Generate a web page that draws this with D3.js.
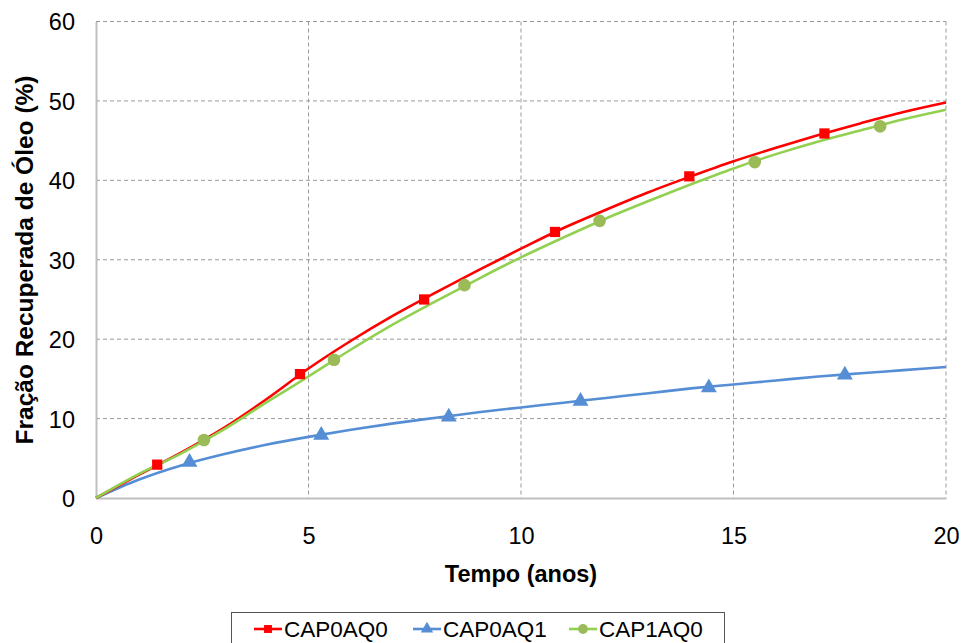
<!DOCTYPE html>
<html><head><meta charset="utf-8">
<script src="https://cdn.jsdelivr.net/npm/d3@7"></script>
<style>
body{margin:0;background:#fff;}
text{font-family:"Liberation Sans",Arial,sans-serif;fill:#000;}
</style></head>
<body><svg id="c" width="965" height="643"></svg>
<script>
const years = [0,1,2,3,4,5,6,7,8,9,10,11,12,13,14,15,16,17,18,19,20];
const cap0aq0 = [0,2.9,5.7,8.8,12.4,16.3,19.8,23.0,25.9,28.7,31.4,34.0,36.3,38.5,40.5,42.4,44.1,45.7,47.2,48.6,49.8];
const cap0aq1 = [0,2.3,4.1,5.5,6.7,7.7,8.6,9.4,10.1,10.8,11.4,12.0,12.6,13.2,13.8,14.3,14.8,15.3,15.7,16.1,16.5];
const cap1aq0 = [0,3.0,5.6,8.6,12.0,15.3,18.7,21.9,24.8,27.6,30.3,32.8,35.2,37.4,39.5,41.5,43.3,44.9,46.3,47.7,48.9];
const markX0 = [1.44,4.8,7.72,10.8,13.96,17.14];
const markY0 = [4.2,15.6,25.0,33.5,40.5,45.9];
const markX1 = [2.2,5.3,8.3,11.4,14.42,17.62];
const markY1 = [4.5,7.9,10.2,12.2,13.9,15.5];
const markX2 = [2.54,5.6,8.67,11.85,15.5,18.45];
const markY2 = [7.3,17.4,26.8,34.9,42.3,46.8];
const xTicks = [0,5,10,15,20];
const yTicks = [0,10,20,30,40,50,60];
const seriesNames = ["CAP0AQ0","CAP0AQ1","CAP1AQ0"];

const svg = d3.select("#c");
const L=96, R=946, T=21.5, B=498;
const x = d3.scaleLinear().domain([0,20]).range([L,R]);
const y = d3.scaleLinear().domain([0,60]).range([B,T]);

// grid
const g = svg.append("g");
g.selectAll(".gy").data(yTicks.filter(d=>d>0)).join("line")
  .attr("x1",L).attr("x2",R).attr("y1",d=>y(d)).attr("y2",d=>y(d))
  .attr("stroke","#999").attr("stroke-width",1).attr("stroke-dasharray","4,3");
g.selectAll(".gx").data(xTicks.filter(d=>d>0)).join("line")
  .attr("y1",T).attr("y2",B).attr("x1",d=>x(d)).attr("x2",d=>x(d))
  .attr("stroke","#999").attr("stroke-width",1).attr("stroke-dasharray","4,3");

// axes
const ax = svg.append("g").attr("transform",`translate(0,${B})`)
  .call(d3.axisBottom(x).tickValues(xTicks).tickSize(0).tickPadding(0));
ax.select(".domain").attr("stroke","#bfbfbf").attr("stroke-width",2);
ax.selectAll("text").attr("dy",null).attr("y",46).style("font-size","23.5px");
const ay = svg.append("g").attr("transform",`translate(${L},0)`)
  .call(d3.axisLeft(y).tickValues(yTicks).tickSize(0).tickPadding(21));
ay.select(".domain").attr("stroke","#bfbfbf").attr("stroke-width",2);
ay.selectAll("text").attr("dy","0.36em").style("font-size","23.5px");
svg.selectAll(".tick text").attr("font-family",null);

// lines
const colors = ["#ff0000","#558ed5","#92d050"];
const mcolors = ["#ff0000","#558ed5","#9bbb59"];
const data = [cap0aq0,cap0aq1,cap1aq0];
const line = d3.line().x((d,i)=>x(years[i])).y(d=>y(d)).curve(d3.curveMonotoneX);
[1,0,2].forEach(k=>{
  svg.append("path").attr("d",line(data[k])).attr("fill","none")
    .attr("stroke",colors[k]).attr("stroke-width",2.6);
});
// markers
const sym = [d3.symbolSquare,d3.symbolTriangle,d3.symbolCircle];
const sizes = [105,110,125];
const marks = [[markX0,markY0],[markX1,markY1],[markX2,markY2]];
marks.forEach((m,k)=>{
  svg.append("g").selectAll("path").data(m[0]).join("path")
    .attr("transform",(d,i)=>`translate(${x(d)},${y(m[1][i])})`)
    .attr("d",d3.symbol().type(sym[k]).size(sizes[k]))
    .attr("fill",mcolors[k]);
});

// titles
svg.append("text").attr("x",521).attr("y",582).attr("text-anchor","middle")
  .style("font-size","23.5px").style("font-weight","bold").text("Tempo (anos)");
svg.append("text").attr("transform","translate(33,260) rotate(-90)").attr("text-anchor","middle")
  .style("font-size","24.5px").style("font-weight","bold").text("Fração Recuperada de Óleo (%)");

// legend
svg.append("rect").attr("x",231.5).attr("y",612.5).attr("width",493).attr("height",40)
  .attr("fill","#fff").attr("stroke","#555").attr("stroke-width",1);
const lx = [254,413,569];
seriesNames.forEach((n,k)=>{
  svg.append("line").attr("x1",lx[k]).attr("x2",lx[k]+28).attr("y1",629).attr("y2",629)
    .attr("stroke",colors[k]).attr("stroke-width",2.6);
  svg.append("path").attr("transform",`translate(${lx[k]+14},629)`)
    .attr("d",d3.symbol().type(sym[k]).size(sizes[k]*0.6)).attr("fill",mcolors[k]);
  svg.append("text").attr("x",lx[k]+30).attr("y",637).style("font-size","22.5px").text(n);
});
</script></body></html>
